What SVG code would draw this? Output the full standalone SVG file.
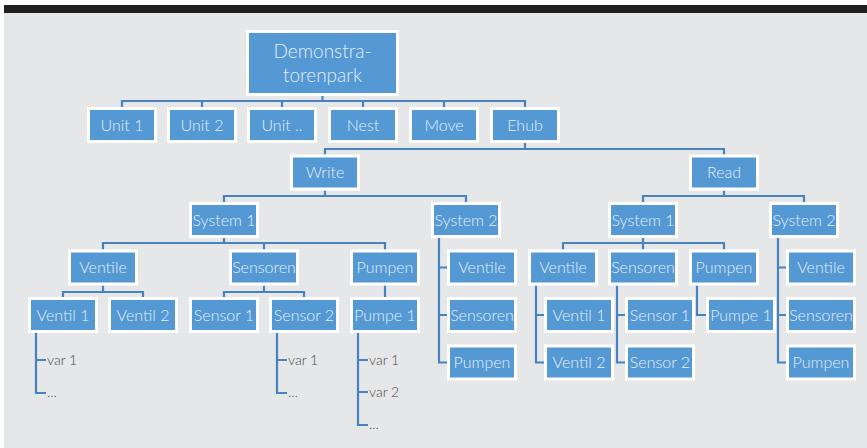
<svg xmlns="http://www.w3.org/2000/svg" width="867" height="448" viewBox="0 0 867 448">
  <style>
    .box rect { fill: #5499d4; stroke: #ffffff; stroke-width: 3; }
    .box text { font-family: Lato, "Open Sans", "Liberation Sans", sans-serif; font-weight: 300; font-size: 16px; fill: #e3eef8; text-anchor: middle; }
    .root text { font-size: 19px; }
    .links path { fill: none; stroke: #4683bf; stroke-width: 2.2; }
    .var { font-family: Lato, "Open Sans", "Liberation Sans", sans-serif; font-weight: 300; font-size: 14px; fill: #4a4a4c; }
  </style>

  <!-- page -->
  <rect x="0" y="0" width="867" height="448" fill="#ffffff"/>
  <rect x="4" y="13" width="863" height="435" fill="#e6e7e9"/>
  <rect x="4" y="5" width="863" height="8" fill="#221f20"/>

  <!-- connectors -->
  <g class="links">
    <path d="M322.5 96 V101 M122 107 V101 H525 V107 M202 101 V107 M282 101 V107 M363 101 V107 M444 101 V107"/>
    <path d="M525 143 V149 M325 154.5 V149 H724 V154.5"/>
    <path d="M325 190.5 V196 M224 202 V196 H466 V202"/>
    <path d="M724 190.5 V196 M643 202 V196 H804 V202"/>
    <path d="M224 238 V243 M103 249.5 V243 H385 V249.5 M264 243 V249.5"/>
    <path d="M103 285.5 V292 M63 297 V292 H143 V297"/>
    <path d="M264 285.5 V292 M224 297 V292 H304 V297"/>
    <path d="M385 285.5 V297"/>
    <path d="M439 238 V362.5 H447 M439 267.5 H447 M439 315 H447"/>
    <path d="M643 238 V243 M563 249.5 V243 H724 V249.5 M643 243 V249.5"/>
    <path d="M536 285.5 V362.5 H544 M536 315 H544"/>
    <path d="M617 285.5 V362.5 H625 M617 315 H625"/>
    <path d="M697 285.5 V315 H706"/>
    <path d="M778 238 V362.5 H786 M778 267.5 H786 M778 315 H786"/>
    <path d="M36 333 V393 H46 M36 360 H46"/>
    <path d="M277 333 V393 H287 M277 360 H287"/>
    <path d="M358 333 V425 H368 M358 360 H368 M358 392 H368"/>
  </g>

  <!-- root -->
  <g id="root" class="box root">
    <rect x="247.5" y="31.5" width="150" height="63"/>
    <text x="322.5" y="58">Demonstra-</text>
    <text x="322.5" y="82">torenpark</text>
  </g>

  <!-- units -->
  <g id="unit1" class="box"><rect x="88.5" y="108.5" width="67" height="33"/><text x="122" y="130.5">Unit 1</text></g>
  <g id="unit2" class="box"><rect x="168.5" y="108.5" width="67" height="33"/><text x="202" y="130.5">Unit 2</text></g>
  <g id="unitn" class="box"><rect x="248.5" y="108.5" width="67" height="33"/><text x="282" y="130.5">Unit ..</text></g>
  <g id="nest" class="box"><rect x="329.5" y="108.5" width="67" height="33"/><text x="363" y="130.5">Nest</text></g>
  <g id="move" class="box"><rect x="410.5" y="108.5" width="67" height="33"/><text x="444" y="130.5">Move</text></g>
  <g id="ehub" class="box"><rect x="491.5" y="108.5" width="67" height="33"/><text x="525" y="130.5">Ehub</text></g>

  <!-- write / read -->
  <g id="write" class="box"><rect x="291.5" y="156" width="67" height="33"/><text x="325" y="178">Write</text></g>
  <g id="read" class="box"><rect x="690.5" y="156" width="67" height="33"/><text x="724" y="178">Read</text></g>

  <!-- systems -->
  <g id="w-sys1" class="box"><rect x="190.5" y="203.5" width="67" height="33"/><text x="224" y="225.5">System 1</text></g>
  <g id="w-sys2" class="box"><rect x="432.5" y="203.5" width="67" height="33"/><text x="466" y="225.5">System 2</text></g>
  <g id="r-sys1" class="box"><rect x="609.5" y="203.5" width="67" height="33"/><text x="643" y="225.5">System 1</text></g>
  <g id="r-sys2" class="box"><rect x="770.5" y="203.5" width="67" height="33"/><text x="804" y="225.5">System 2</text></g>

  <!-- write / system 1 -->
  <g id="w1-ventile" class="box"><rect x="69.5" y="251" width="67" height="33"/><text x="103" y="273">Ventile</text></g>
  <g id="w1-sensoren" class="box"><rect x="230.5" y="251" width="67" height="33"/><text x="264" y="273">Sensoren</text></g>
  <g id="w1-pumpen" class="box"><rect x="351.5" y="251" width="67" height="33"/><text x="385" y="273">Pumpen</text></g>
  <g id="w1-ventil1" class="box"><rect x="29.5" y="298.5" width="67" height="33"/><text x="63" y="320.5">Ventil 1</text></g>
  <g id="w1-ventil2" class="box"><rect x="109.5" y="298.5" width="67" height="33"/><text x="143" y="320.5">Ventil 2</text></g>
  <g id="w1-sensor1" class="box"><rect x="190.5" y="298.5" width="67" height="33"/><text x="224" y="320.5">Sensor 1</text></g>
  <g id="w1-sensor2" class="box"><rect x="270.5" y="298.5" width="67" height="33"/><text x="304" y="320.5">Sensor 2</text></g>
  <g id="w1-pumpe1" class="box"><rect x="351.5" y="298.5" width="67" height="33"/><text x="385" y="320.5">Pumpe 1</text></g>

  <!-- variables -->
  <g id="vars-ventil1">
    <text class="var" x="47" y="365">var 1</text>
    <text class="var" x="47" y="397" font-size="9">...</text>
  </g>
  <g id="vars-sensor2">
    <text class="var" x="288" y="365">var 1</text>
    <text class="var" x="288" y="397" font-size="9">...</text>
  </g>
  <g id="vars-pumpe1">
    <text class="var" x="369" y="365">var 1</text>
    <text class="var" x="369" y="397">var 2</text>
    <text class="var" x="369" y="429" font-size="9">...</text>
  </g>

  <!-- write / system 2 -->
  <g id="w2-ventile" class="box"><rect x="448.5" y="251" width="67" height="33"/><text x="482" y="273">Ventile</text></g>
  <g id="w2-sensoren" class="box"><rect x="448.5" y="298.5" width="67" height="33"/><text x="482" y="320.5">Sensoren</text></g>
  <g id="w2-pumpen" class="box"><rect x="448.5" y="346" width="67" height="33"/><text x="482" y="368">Pumpen</text></g>

  <!-- read / system 1 -->
  <g id="r1-ventile" class="box"><rect x="529.5" y="251" width="67" height="33"/><text x="563" y="273">Ventile</text></g>
  <g id="r1-sensoren" class="box"><rect x="609.5" y="251" width="67" height="33"/><text x="643" y="273">Sensoren</text></g>
  <g id="r1-pumpen" class="box"><rect x="690.5" y="251" width="67" height="33"/><text x="724" y="273">Pumpen</text></g>
  <g id="r1-ventil1" class="box"><rect x="545.5" y="298.5" width="67" height="33"/><text x="579" y="320.5">Ventil 1</text></g>
  <g id="r1-ventil2" class="box"><rect x="545.5" y="346" width="67" height="33"/><text x="579" y="368">Ventil 2</text></g>
  <g id="r1-sensor1" class="box"><rect x="626.5" y="298.5" width="67" height="33"/><text x="660" y="320.5">Sensor 1</text></g>
  <g id="r1-sensor2" class="box"><rect x="626.5" y="346" width="67" height="33"/><text x="660" y="368">Sensor 2</text></g>
  <g id="r1-pumpe1" class="box"><rect x="707.5" y="298.5" width="67" height="33"/><text x="741" y="320.5">Pumpe 1</text></g>

  <!-- read / system 2 -->
  <g id="r2-ventile" class="box"><rect x="787.5" y="251" width="67" height="33"/><text x="821" y="273">Ventile</text></g>
  <g id="r2-sensoren" class="box"><rect x="787.5" y="298.5" width="67" height="33"/><text x="821" y="320.5">Sensoren</text></g>
  <g id="r2-pumpen" class="box"><rect x="787.5" y="346" width="67" height="33"/><text x="821" y="368">Pumpen</text></g>
</svg>
